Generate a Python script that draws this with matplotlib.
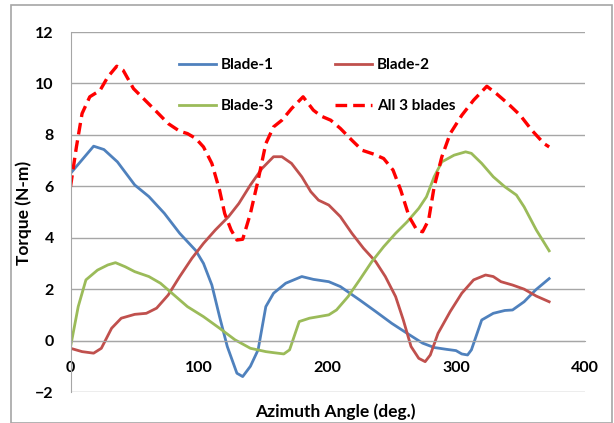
import numpy as np
import matplotlib
matplotlib.use("Agg")
from matplotlib import pyplot as plt
from matplotlib.patches import Rectangle

# Torque vs azimuth
blade1_x = [0, 18, 26, 36.5, 50, 61, 73, 85, 97.5, 103.5, 110, 116, 122, 129.5, 134, 140,
            146, 152, 158, 167.5, 180, 189, 201, 210, 225, 237.5, 250, 262, 274, 283,
            292.5, 300, 304.5, 309, 312, 320, 329, 338, 344, 353, 362, 372.5]
blade1_y = [6.5, 7.56, 7.43, 6.95, 6.05, 5.6, 4.95, 4.17, 3.5, 3.0, 2.16, 0.93, -0.23, -1.27,
            -1.4, -1.0, -0.36, 1.32, 1.84, 2.23, 2.49, 2.38, 2.29, 2.1, 1.58, 1.13, 0.67,
            0.28, -0.1, -0.27, -0.34, -0.39, -0.52, -0.56, -0.36, 0.8, 1.06, 1.17, 1.19,
            1.51, 1.97, 2.41]

blade2_x = [0, 9, 18, 24, 32, 39.5, 50, 59, 67, 76, 85, 94.5, 103.5, 112.7, 123, 131, 140,
            149, 158, 164.5, 172, 180, 187, 193, 201, 210, 219, 228, 237.5, 245, 253, 259,
            265, 271, 276, 280, 286, 295.5, 304.5, 313.7, 323, 329, 335, 344, 353, 362.5,
            372.5]
blade2_y = [-0.3, -0.43, -0.49, -0.3, 0.48, 0.87, 1.02, 1.06, 1.26, 1.77, 2.49, 3.2, 3.78,
            4.3, 4.82, 5.33, 6.05, 6.69, 7.15, 7.15, 6.89, 6.37, 5.79, 5.46, 5.27, 4.82,
            4.17, 3.59, 3.07, 2.49, 1.71, 0.8, -0.23, -0.69, -0.82, -0.56, 0.28, 1.13, 1.84,
            2.36, 2.55, 2.49, 2.29, 2.16, 2.0, 1.73, 1.51]

blade3_x = [0, 6, 12, 21, 29, 35, 42.6, 50, 61, 70, 79, 91, 103.5, 116, 128, 140, 152, 158,
            166, 170.5, 178, 186, 193, 201, 207, 216, 225, 234.5, 243.7, 253, 262, 271, 277,
            283, 289, 298.5, 307.5, 312, 320, 329, 338, 347, 353, 362.5, 372.5]
blade3_y = [-0.25, 1.32, 2.36, 2.74, 2.94, 3.03, 2.87, 2.68, 2.49, 2.23, 1.84, 1.32, 0.93,
            0.48, 0.03, -0.3, -0.43, -0.47, -0.52, -0.36, 0.74, 0.87, 0.93, 1.0, 1.19, 1.71,
            2.36, 3.07, 3.65, 4.17, 4.62, 5.14, 5.59, 6.37, 6.95, 7.21, 7.34, 7.28, 6.89,
            6.37, 5.98, 5.66, 5.2, 4.3, 3.49]

total_x = [0, 4.6, 9, 15, 23, 29, 36, 41, 49, 58, 67, 76, 85, 91, 97.5, 103.5, 110, 116,
           120, 125, 129.5, 134, 140, 146, 152, 158, 164.5, 172, 181, 189, 195, 202.5, 210,
           219, 227, 236, 243.7, 251, 257, 263.5, 269.5, 274, 278.7, 283, 289, 295.5,
           304.5, 313.7, 324, 331.5, 341, 350, 359, 368.5, 372.5]
total_y = [5.98, 7.53, 8.83, 9.48, 9.73, 10.25, 10.67, 10.51, 9.8, 9.35, 8.9, 8.44, 8.14,
           8.05, 7.86, 7.53, 6.89, 5.85, 4.94, 4.3, 3.91, 3.94, 4.94, 6.24, 7.66, 8.31, 8.57,
           9.02, 9.48, 8.96, 8.73, 8.57, 8.25, 7.79, 7.4, 7.25, 7.08, 6.63, 5.85, 4.82, 4.3,
           4.23, 4.69, 5.98, 7.15, 8.05, 8.76, 9.35, 9.89, 9.6, 9.19, 8.76, 8.18, 7.66, 7.53]

x_ticks = [0, 100, 200, 300, 400]
y_ticks = [-2, 0, 2, 4, 6, 8, 10, 12]

plt.rcParams['font.family'] = ['Lato', 'DejaVu Sans']
plt.rcParams['font.weight'] = 'bold'

W, H = 614, 423
fig = plt.figure(figsize=(W / 100, H / 100), dpi=100)
ax = fig.add_axes([70.5 / W, 1 - 392 / H, 514 / W, 360 / H])

# outer chart border
fig.patches.append(Rectangle((10.5 / W, 0), 601 / W, 1 - 5.5 / H, transform=fig.transFigure,
                             fill=False, edgecolor='#a6a6a6', linewidth=1.2))

for yv in y_ticks:
    ax.axhline(yv, color='#a6a6a6', linewidth=1.0, zorder=0)

lw = 2.0
l1, = ax.plot(blade1_x, blade1_y, color='#4f81bd', linewidth=lw, label='Blade-1')
l2, = ax.plot(blade2_x, blade2_y, color='#c0504d', linewidth=lw, label='Blade-2')
l3, = ax.plot(blade3_x, blade3_y, color='#9bbb59', linewidth=lw, label='Blade-3')
l4, = ax.plot(total_x, total_y, color='#ff0000', linewidth=2.4, linestyle=(0, (3.5, 1.8)),
              label='All 3 blades')

ax.set_xlim(0, 400)
ax.set_ylim(-2, 12)
ax.set_xticks(x_ticks)
ax.set_yticks(y_ticks)

for s in ['top', 'right']:
    ax.spines[s].set_visible(False)
ax.spines['bottom'].set_position(('data', 0))
ax.spines['bottom'].set_color('#a6a6a6')
ax.spines['left'].set_color('#a6a6a6')
ax.tick_params(axis='x', length=0, pad=15, labelsize=11.5)
ax.tick_params(axis='y', length=0, pad=12, labelsize=11.5)

fig.text(24 / W, 1 - 213 / H, 'Torque (N-m)', rotation=90, ha='center', va='center',
         fontsize=12.5, fontweight='bold')
fig.text(335 / W, 1 - 412 / H, 'Azimuth Angle (deg.)', ha='center', va='center',
         fontsize=12.5, fontweight='bold')

# legend is filled column by column, so order the handles to get Blade-1/Blade-2 on row one
ax.legend([l1, l3, l2, l4], ['Blade-1', 'Blade-3', 'Blade-2', 'All 3 blades'],
          loc='upper left', bbox_to_anchor=(179 / W, 1 - 58 / H), bbox_transform=fig.transFigure,
          ncol=2, frameon=False, fontsize=11, handlelength=2.4, handletextpad=0.35,
          columnspacing=4.0, labelspacing=1.8, borderpad=0, borderaxespad=0)

fig.savefig('out.png', dpi=100)
